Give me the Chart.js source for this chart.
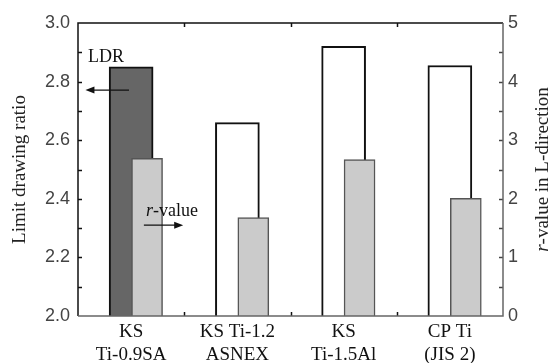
<!DOCTYPE html>
<html>
<head>
<meta charset="utf-8">
<script src="https://cdn.jsdelivr.net/npm/chart.js@4/dist/chart.umd.min.js"></script>
<style>
  html, body { margin: 0; padding: 0; background: #fff; }
</style>
</head>
<body>
<canvas id="myChart" width="550" height="363"></canvas>
<script>
// alloys on the x axis
var categories = [['KS', 'Ti-0.9SA'], ['KS Ti-1.2', 'ASNEX'], ['KS', 'Ti-1.5Al'], ['CP Ti', '(JIS 2)']];
// limit drawing ratio (left axis)
var ldrValues = [2.85, 2.66, 2.92, 2.855];
// r-value in L-direction (right axis)
var rValues = [2.69, 1.68, 2.67, 2.01];
var ldrTicks = [2.0, 2.2, 2.4, 2.6, 2.8, 3.0];
var rTicks = [0, 1, 2, 3, 4, 5];

var rShift = 0.15; // r-value bar sits right of the LDR bar
var serif = '"Liberation Serif", "Times New Roman", serif';
var sans = '"Liberation Sans", Arial, sans-serif';

function arrow(ctx, x1, y1, x2, y2) {
  var dir = x2 > x1 ? 1 : -1;
  ctx.beginPath();
  ctx.moveTo(x1, y1);
  ctx.lineTo(x2 - dir * 6, y2);
  ctx.stroke();
  ctx.beginPath();
  ctx.moveTo(x2, y2);
  ctx.lineTo(x2 - dir * 9, y2 - 3.5);
  ctx.lineTo(x2 - dir * 9, y2 + 3.5);
  ctx.closePath();
  ctx.fill();
}

var framePlugin = {
  id: 'frame',
  afterDatasetsDraw: function(chart) {
    var ctx = chart.ctx, a = chart.chartArea;
    var x = chart.scales.x, y = chart.scales.y, y2 = chart.scales.y2;
    ctx.save();
    ctx.lineWidth = 1.5;
    // inner ticks, left axis
    ctx.strokeStyle = '#111';
    for (var v = 1; v < 10; v++) {
      var py = Math.round(y.getPixelForValue(2 + v / 10)) + 0.5;
      ctx.beginPath(); ctx.moveTo(a.left, py); ctx.lineTo(a.left + 4, py); ctx.stroke();
    }
    // inner ticks, right axis
    ctx.strokeStyle = '#444';
    for (var w = 1; w < 10; w++) {
      var qy = Math.round(y2.getPixelForValue(w / 2)) + 0.5;
      ctx.beginPath(); ctx.moveTo(a.right, qy); ctx.lineTo(a.right - 4, qy); ctx.stroke();
    }
    // inner ticks, top and bottom between categories
    ctx.strokeStyle = '#111';
    for (var i = 0; i < categories.length - 1; i++) {
      var px = Math.round(x.getPixelForValue(i + 0.5)) + 0.5;
      ctx.beginPath(); ctx.moveTo(px, a.top); ctx.lineTo(px, a.top + 4); ctx.stroke();
      ctx.beginPath(); ctx.moveTo(px, a.bottom); ctx.lineTo(px, a.bottom - 4); ctx.stroke();
    }
    // frame
    ctx.strokeStyle = '#111';
    ctx.beginPath(); ctx.moveTo(a.left, a.bottom); ctx.lineTo(a.left, a.top); ctx.lineTo(a.right, a.top); ctx.stroke();
    ctx.strokeStyle = '#666';
    ctx.beginPath(); ctx.moveTo(a.left, a.bottom); ctx.lineTo(a.right, a.bottom); ctx.lineTo(a.right, a.top); ctx.stroke();

    // annotations
    ctx.fillStyle = '#111';
    ctx.strokeStyle = '#111';
    ctx.lineWidth = 1.2;
    ctx.font = '18px ' + serif;
    ctx.textAlign = 'left';
    ctx.textBaseline = 'alphabetic';
    ctx.fillText('LDR', x.getPixelForValue(-0.405), y.getPixelForValue(2.867));
    arrow(ctx, x.getPixelForValue(-0.02), y.getPixelForValue(2.771), x.getPixelForValue(-0.43), y.getPixelForValue(2.771));
    var tx = x.getPixelForValue(0.14), ty = y2.getPixelForValue(1.71);
    ctx.font = 'italic 18px ' + serif;
    ctx.fillText('r', tx, ty);
    var rw = ctx.measureText('r').width;
    ctx.font = '18px ' + serif;
    ctx.fillText('-value', tx + rw, ty);
    arrow(ctx, x.getPixelForValue(0.12), y2.getPixelForValue(1.55), x.getPixelForValue(0.49), y2.getPixelForValue(1.55));

    // axis titles
    var cy = (a.top + a.bottom) / 2;
    ctx.fillStyle = '#222';
    ctx.textAlign = 'center';
    ctx.textBaseline = 'middle';
    ctx.font = '19px ' + serif;
    ctx.save();
    ctx.translate(20, cy);
    ctx.rotate(-Math.PI / 2);
    ctx.fillText('Limit drawing ratio', 0, 0);
    ctx.restore();

    ctx.save();
    ctx.translate(543, cy);
    ctx.rotate(-Math.PI / 2);
    ctx.font = 'italic 19px ' + serif;
    var w1 = ctx.measureText('r').width;
    ctx.font = '19px ' + serif;
    var w2 = ctx.measureText('-value in L-direction').width;
    ctx.textAlign = 'left';
    ctx.font = 'italic 19px ' + serif;
    ctx.fillText('r', -(w1 + w2) / 2, 0);
    ctx.font = '19px ' + serif;
    ctx.fillText('-value in L-direction', -(w1 + w2) / 2 + w1, 0);
    ctx.restore();
    ctx.restore();
  }
};

var data = {
  datasets: [{
    label: 'r-value',
    data: rValues.map(function(v, i) { return { x: i + rShift, y: v }; }),
    yAxisID: 'y2',
    backgroundColor: '#cbcbcb',
    borderColor: '#555',
    borderWidth: 1.5,
    barThickness: 31,
    grouped: false,
    order: 0
  }, {
    label: 'LDR',
    data: ldrValues.map(function(v, i) { return { x: i, y: v }; }),
    yAxisID: 'y',
    backgroundColor: ldrValues.map(function(v, i) { return i === 0 ? '#666666' : '#ffffff'; }),
    borderColor: '#111',
    borderWidth: 2,
    barThickness: 44,
    grouped: false,
    order: 1
  }]
};

var config = {
  type: 'bar',
  data: data,
  options: {
    responsive: false,
    animation: false,
    devicePixelRatio: 1,
    layout: { padding: { top: 23, left: 0, right: 0, bottom: 0 } },
    plugins: { legend: { display: false }, tooltip: { enabled: false } },
    scales: {
      x: {
        type: 'linear',
        offset: false,
        min: -0.5,
        max: 3.5,
        grid: { display: false, drawTicks: false },
        border: { display: false },
        afterBuildTicks: function(s) { s.ticks = categories.map(function(c, i) { return { value: i }; }); },
        afterFit: function(s) { s.height = 47; },
        ticks: {
          padding: 5,
          maxRotation: 0,
          autoSkip: false,
          color: '#111',
          font: { family: serif, size: 19, lineHeight: 1.2 },
          callback: function(v) { return categories[v]; }
        }
      },
      y: {
        position: 'left',
        min: 2.0,
        max: 3.0,
        grid: { display: false, drawTicks: false },
        border: { display: false },
        afterBuildTicks: function(s) { s.ticks = ldrTicks.map(function(v) { return { value: v }; }); },
        afterFit: function(s) { s.width = 78; },
        ticks: {
          padding: 8,
          color: '#444',
          font: { family: sans, size: 18 },
          callback: function(v) { return v.toFixed(1); }
        }
      },
      y2: {
        position: 'right',
        min: 0,
        max: 5,
        grid: { display: false, drawTicks: false },
        border: { display: false },
        afterBuildTicks: function(s) { s.ticks = rTicks.map(function(v) { return { value: v }; }); },
        afterFit: function(s) { s.width = 47; },
        ticks: {
          padding: 5,
          color: '#444',
          font: { family: sans, size: 18 },
          callback: function(v) { return String(v); }
        }
      }
    }
  },
  plugins: [framePlugin]
};

var myChart = new Chart(document.getElementById('myChart'), config);
</script>
</body>
</html>
